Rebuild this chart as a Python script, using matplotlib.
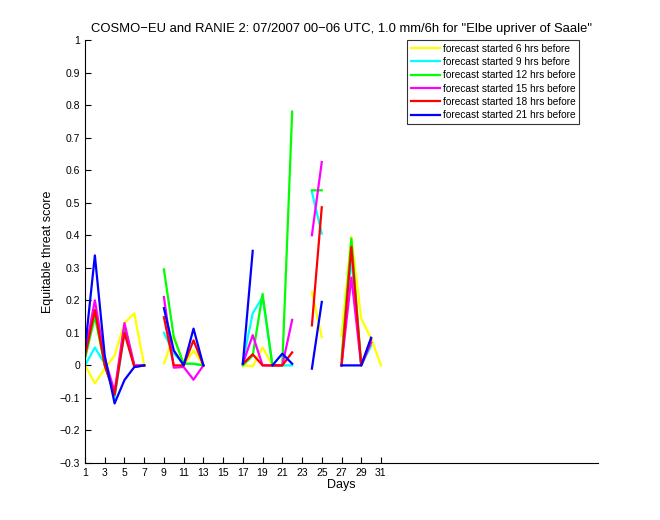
import numpy as np
import matplotlib
matplotlib.use("Agg")
import matplotlib.pyplot as plt

nan = np.nan
days = np.arange(1, 32)

# equitable threat score per forecast lead time (NaN = no value)
ets_6h = [0, -0.055, -0.01, 0.03, 0.13, 0.16, 0, nan, 0.006, 0.09, 0, 0.046, 0, nan, nan, nan,
          0, -0.003, 0.055, 0, 0, nan, nan, 0.226, 0.087, nan, 0.09, 0.395, 0.144, 0.083, 0]
ets_9h = [0, 0.055, 0.005, -0.1, 0.1, 0, 0, nan, 0.1, 0.036, 0.005, 0.005, 0, nan, nan, nan,
          0.01, 0.16, 0.21, 0, 0, 0, nan, 0.533, 0.405, nan, 0, 0.33, 0, 0.06, nan]
ets_12h = [0.02, 0.15, 0, -0.09, 0.12, 0, 0, nan, 0.295, 0.087, 0.005, 0.005, 0, nan, nan, nan,
           0, 0.03, 0.22, 0, 0, 0.78, nan, 0.538, 0.538, nan, 0.02, 0.39, 0, 0.07, nan]
ets_15h = [0.04, 0.2, 0.02, -0.08, 0.13, 0, 0, nan, 0.21, -0.007, -0.005, -0.044, 0, nan, nan, nan,
           0.005, 0.093, 0, 0, 0, 0.14, nan, 0.40, 0.625, nan, 0, 0.27, 0, 0.07, nan]
ets_18h = [0.03, 0.17, 0, -0.09, 0.1, -0.005, 0, nan, 0.148, 0, 0, 0.077, 0, nan, nan, nan,
           0.005, 0.034, 0, 0, 0, 0.04, nan, 0.123, 0.486, nan, 0, 0.364, 0, 0.08, nan]
ets_21h = [0.05, 0.338, 0.03, -0.117, -0.045, -0.005, 0, nan, 0.176, 0.046, 0, 0.113, 0, nan, nan, nan,
           0.005, 0.352, nan, 0, 0.036, 0.005, nan, -0.01, 0.195, nan, 0, 0, 0, 0.085, nan]

series = [ets_6h, ets_9h, ets_12h, ets_15h, ets_18h, ets_21h]
labels = ["forecast started 6 hrs before", "forecast started 9 hrs before",
          "forecast started 12 hrs before", "forecast started 15 hrs before",
          "forecast started 18 hrs before", "forecast started 21 hrs before"]
colors = ["#ffff00", "#00ffff", "#00ff00", "#ff00ff", "#ff0000", "#0000ff"]

plt.rcParams["font.family"] = ["Liberation Sans", "DejaVu Sans"]

fig = plt.figure(figsize=(6.6, 5.2), dpi=100)
ax = fig.add_axes([85 / 660, 57 / 520, 513 / 660, 423 / 520])

for vals, lab, col in zip(series, labels, colors):
    ax.plot(days, vals, color=col, lw=1.6, label=lab)

yt = np.round(np.arange(-0.3, 1.01, 0.1), 1)
ax.set_xlim(1, 53)
ax.set_ylim(-0.3, 1)
ax.set_xticks(np.arange(1, 32, 2))
ax.set_yticks(yt)
ax.set_yticklabels([f"{v:g}".replace("-", "\u2212") for v in yt])
ax.tick_params(direction="in", labelsize=7.5, length=4)
ax.spines["top"].set_visible(False)
ax.spines["right"].set_visible(False)
for sp in ("left", "bottom"):
    ax.spines[sp].set_linewidth(0.8)

ax.set_xlabel("Days", fontsize=9, labelpad=1)
ax.set_ylabel("Equitable threat score", fontsize=9, labelpad=4)
ax.set_title("COSMO\u2212EU and RANIE 2: 07/2007 00\u221206 UTC, 1.0 mm/6h for \"Elbe upriver of Saale\"",
             fontsize=9.4, pad=6)

leg = ax.legend(loc="upper right", bbox_to_anchor=((579 - 85) / 513, 1.0),
                fontsize=7.3, frameon=True, fancybox=False, edgecolor="black",
                handlelength=2.9, handletextpad=0.25, borderaxespad=0,
                borderpad=0.35, labelspacing=0.33)
leg.get_frame().set_linewidth(0.8)

fig.savefig("out.png", dpi=100, facecolor="white")
